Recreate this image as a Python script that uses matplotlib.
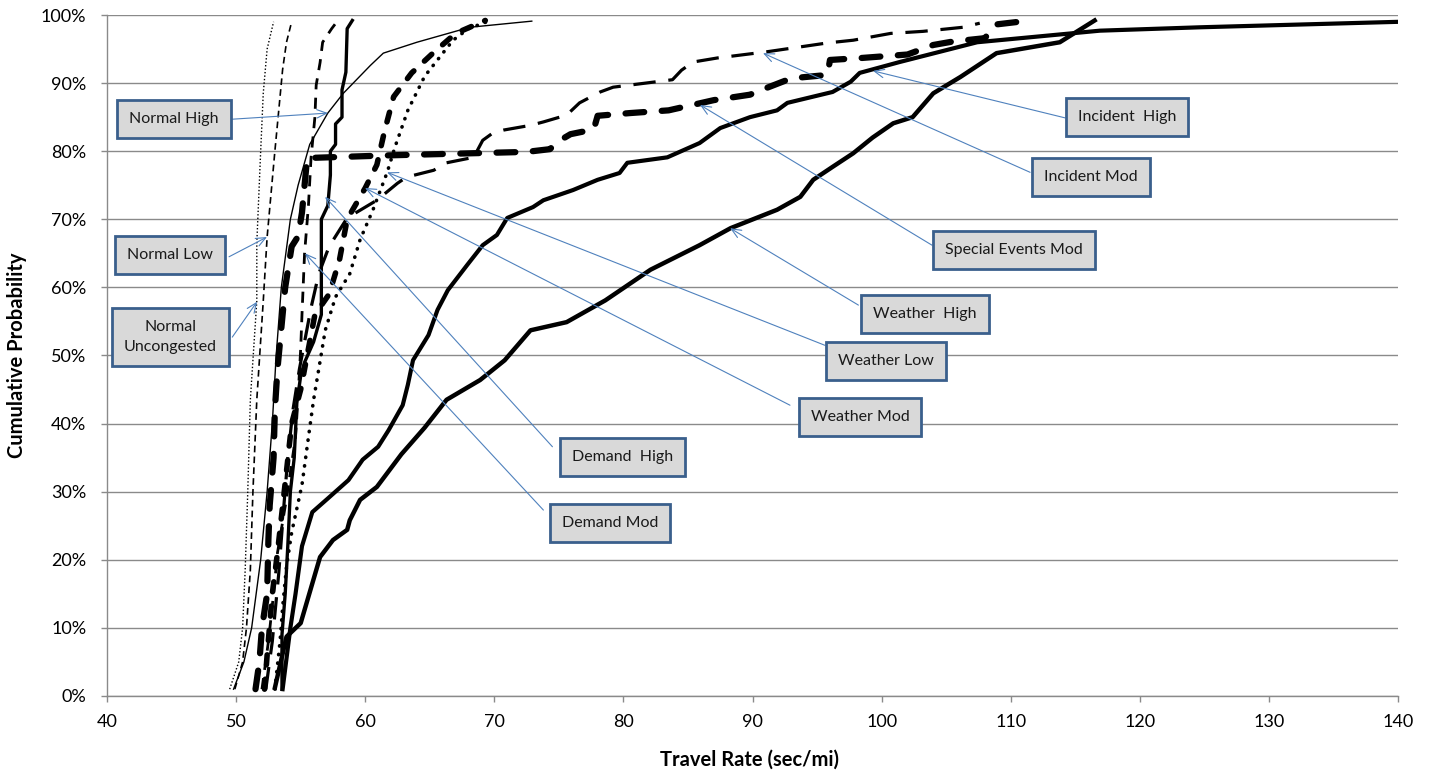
import matplotlib
matplotlib.use("Agg")
import matplotlib.pyplot as plt
from matplotlib.ticker import FuncFormatter

plt.rcParams['font.family'] = ['Lato', 'DejaVu Sans']

# ---------------- data (travel rate sec/mi, cumulative probability %) ----------------
normal_unc_x = [49.5, 50.2, 50.5, 50.7, 50.9, 51.1, 51.6, 51.6, 51.9, 52.1, 52.4, 52.9]
normal_unc_p = [1, 5, 10, 18.5, 30, 43.5, 58, 66.5, 80, 88.5, 95, 99]

normal_low_x = [49.9, 50.5, 50.8, 51.1, 51.3, 51.6, 52.1, 52.4, 53.0, 53.6, 53.9, 54.3]
normal_low_p = [1, 5, 10, 18.5, 30, 43.5, 58, 67.4, 80, 92, 96, 99]

normal_high_x = [49.8, 50.6, 51.2, 51.9, 52.4, 52.8, 53.1, 53.5, 54.2, 54.8, 55.7, 57.1, 58.3,
                 60.4, 61.4, 64.0, 68.1, 72.9]
normal_high_p = [1, 5, 10, 20, 30, 40, 50, 60, 70, 75, 81, 85.6, 88.5, 92.6, 94.4, 96, 98.2, 99.1]

demand_high_x = [53.55, 53.55, 53.8, 54.0, 54.2, 54.5, 54.7, 55.0, 55.3, 56.0, 56.6, 56.6, 57.1,
                 57.3, 57.3, 57.7, 57.7, 58.2, 58.2, 58.5, 58.6, 59.0]
demand_high_p = [1, 9, 15, 22, 30, 35, 43, 47, 49, 52, 56, 70, 72, 76.5, 80, 81, 84, 85, 89,
                 91.6, 98, 99.2]

demand_mod_x = [52.0, 52.5, 52.9, 53.2, 53.9, 54.6, 54.8, 55.0, 55.1, 55.3, 55.6, 55.8, 56.1,
                56.2, 56.5, 56.7, 57.4, 57.8]
demand_mod_p = [1, 8, 15, 21, 29, 38, 44, 51, 56, 65, 72, 79, 85, 89.7, 93, 96, 98, 99]

weather_low_x = [53.0, 53.4, 53.6, 53.9, 54.3, 55.1, 55.6, 56.0, 56.4, 56.9, 57.7, 58.8, 59.6,
                 60.6, 61.7, 62.3, 63.3, 64.6, 66.8, 68.0, 69.7]
weather_low_p = [1, 8, 13, 19, 24, 31, 38, 43.5, 48, 53.7, 58.6, 62, 67, 71.4, 76.9, 80.6, 86,
                 91, 96.3, 98, 99.2]

weather_mod_x = [52.2, 52.4, 52.8, 53.2, 53.9, 54.3, 55.0, 55.5, 56.1, 57.2, 58.0, 58.6, 60.0,
                 60.9, 61.5, 62.2, 63.6, 65.3, 67.0, 69.3]
weather_mod_p = [1, 6, 15, 21, 33, 40, 45, 50, 56, 59, 64, 70, 74.6, 78, 83, 88, 91.5, 94.5,
                 97.3, 99.2]

weather_high_x = [53.0, 53.9, 55.0, 56.5, 57.5, 58.6, 58.8, 59.6, 60.9, 62.8, 64.6, 66.3, 68.9,
                  70.8, 72.8, 75.6, 78.6, 82.1, 85.9, 88.3, 91.9, 93.7, 94.7, 96.2, 97.8, 99.3,
                  100.9, 102.4, 104.0, 106.1, 108.9, 113.8, 116.5]
weather_high_p = [1.2, 8.7, 10.7, 20.4, 22.9, 24.4, 25.8, 28.8, 30.7, 35.5, 39.4, 43.5, 46.4,
                  49.3, 53.7, 54.9, 58.1, 62.6, 66.2, 68.7, 71.4, 73.3, 75.8, 77.7, 79.7, 82,
                  84.1, 85, 88.5, 90.9, 94.4, 96, 99.2]

special_mod_x = [51.5, 51.8, 52.0, 52.4, 52.5, 52.6, 52.9, 53.0, 53.2, 53.5, 53.8, 54.3, 54.8,
                 55.1, 55.3, 55.5, 62.0, 72.5, 74.3, 75.0, 75.9, 77.7, 78.0, 80.5, 83.5, 87.0,
                 89.8, 91.1, 93.0, 95.8, 96.0, 98.5, 102.0, 104.0, 105.5, 108.0, 108.8, 111.5]
special_mod_p = [1, 5, 10, 15, 23, 28, 35, 42, 48, 54, 60, 66, 67.5, 71, 75, 79, 79.4, 79.9,
                 80.3, 81.5, 82.5, 83.2, 85.2, 85.6, 86, 87.5, 88.3, 89.3, 90.7, 91.2, 93.4,
                 93.7, 94.2, 95.6, 96.1, 96.6, 98.6, 99.2]

incident_mod_x = [52.3, 52.8, 53.3, 53.7, 54.0, 54.4, 54.9, 55.3, 55.8, 56.4, 57.2, 58.6, 60.9,
                  62.5, 63.2, 65.3, 66.3, 68.4, 69.1, 69.9, 70.7, 72.8, 73.8, 75.6, 76.6, 78.2,
                  79.2, 83.8, 84.5, 85.4, 87.3, 91.1, 95.8, 97.8, 100.7, 103.2, 106.3, 107.6]
incident_mod_p = [1, 8, 18, 28, 35, 42, 48, 52, 57, 62, 66, 70.2, 72.8, 75.3, 76.2, 77.2, 78.3,
                  79.1, 81.6, 82.7, 83.1, 83.8, 84.3, 85.3, 87.1, 88.7, 89.4, 90.5, 91.9, 93.1,
                  93.7, 94.6, 95.9, 96.3, 97.3, 97.6, 98.2, 98.8]

incident_high_x = [53.6, 54.2, 54.6, 55.1, 55.9, 57.1, 58.7, 59.8, 61.0, 61.8, 62.9, 63.3, 63.7,
                   64.9, 65.6, 66.4, 67.9, 69.1, 70.2, 71.0, 73.0, 73.8, 76.1, 78.0, 79.7, 80.3,
                   83.4, 85.9, 87.5, 89.8, 91.9, 92.7, 96.2, 97.6, 98.3, 101.4, 107.4, 116.9,
                   124.7, 140.0]
incident_high_p = [1, 10, 15, 22, 27, 29, 31.7, 34.7, 36.6, 39, 42.7, 45.7, 49.3, 53, 56.7, 59.6,
                   63.3, 66.2, 67.7, 70.2, 71.8, 72.8, 74.3, 75.8, 76.8, 78.3, 79.1, 81.2, 83.4,
                   85, 86, 87.1, 88.7, 90.2, 91.5, 93.1, 96, 97.7, 98.2, 99]

x_ticks = [40, 50, 60, 70, 80, 90, 100, 110, 120, 130, 140]
y_ticks = [0, 10, 20, 30, 40, 50, 60, 70, 80, 90, 100]

labels = ["Normal High", "Normal Low", "Normal\nUncongested", "Demand  High", "Demand Mod",
          "Weather Mod", "Weather Low", "Weather  High", "Special Events Mod",
          "Incident Mod", "Incident  High"]

# ---------------- layout / style ----------------
# arrow tip (data), arrow start (data), box centre (data)
ann_layout = [
    ((57.12, 85.6), (49.7, 84.7), (45.19, 84.7)),
    ((52.39, 67.4), (49.45, 64.5), (44.88, 64.8)),
    ((51.62, 57.9), (49.7, 52.7), (44.88, 52.7)),
    ((56.89, 73.3), (74.5, 36.6), (79.9, 35.1)),
    ((55.34, 65.0), (73.8, 27.3), (78.96, 25.4)),
    ((59.98, 74.6), (92.9, 42.7), (98.33, 41.0)),
    ((61.69, 76.9), (95.6, 51.5), (100.34, 49.2)),
    ((88.26, 68.7), (98.2, 57.4), (103.36, 56.1)),
    ((85.93, 86.8), (103.9, 66.2), (110.26, 65.5)),
    ((90.81, 94.4), (111.5, 76.9), (116.22, 76.2)),
    ((99.33, 91.8), (114.2, 84.9), (119.0, 85.0)),
]

fig = plt.figure(figsize=(14.33, 7.74), dpi=100)
ax = fig.add_axes([0.0747, 0.1008, 0.9009, 0.8798])

series = [
    (normal_unc_x, normal_unc_p, dict(lw=1.0, ls=(0, (1, 1.5)))),
    (normal_low_x, normal_low_p, dict(lw=1.2, ls=(0, (4, 2.5)))),
    (normal_high_x, normal_high_p, dict(lw=1.0, ls='-')),
    (demand_mod_x, demand_mod_p, dict(lw=2.0, ls=(0, (4, 3)))),
    (demand_high_x, demand_high_p, dict(lw=2.4, ls='-')),
    (weather_low_x, weather_low_p, dict(lw=2.6, ls=(0, (0.1, 2.3)), dash_capstyle='round')),
    (weather_mod_x, weather_mod_p, dict(lw=4.0, ls=(0, (1.8, 2.6)), dash_capstyle='round')),
    (weather_high_x, weather_high_p, dict(lw=3.2, ls='-')),
    (special_mod_x, special_mod_p, dict(lw=4.5, ls=(0, (3.0, 2.8)), dash_capstyle='round')),
    (incident_mod_x, incident_mod_p, dict(lw=2.3, ls=(0, (7, 4)))),
    (incident_high_x, incident_high_p, dict(lw=3.0, ls='-')),
]
for xs, ps, st in series:
    ax.plot(xs, ps, color='black', solid_joinstyle='round', zorder=3, **st)

ax.set_xlim(40, 140)
ax.set_ylim(0, 100)
ax.set_xticks(x_ticks)
ax.set_yticks(y_ticks)
ax.yaxis.set_major_formatter(FuncFormatter(lambda v, _: f"{int(v)}%"))
ax.grid(axis='y', color='#8a8a8a', lw=1.0, zorder=0)
for s in ['top', 'right']:
    ax.spines[s].set_visible(False)
for s in ['left', 'bottom']:
    ax.spines[s].set_color('#8a8a8a')
    ax.spines[s].set_linewidth(1.0)
ax.tick_params(axis='both', colors='#8a8a8a', labelcolor='black', labelsize=13,
               length=4, width=1.0)
ax.tick_params(axis='y', pad=11)
ax.tick_params(axis='x', pad=9)

ax.set_xlabel("Travel Rate (sec/mi)", fontsize=14.5, fontweight='bold')
ax.set_ylabel("Cumulative Probability", fontsize=14.5, fontweight='bold')
ax.xaxis.set_label_coords(0.498, -0.079)
ax.yaxis.set_label_coords(-0.062, 0.5)

for text, (tip, start, centre) in zip(labels, ann_layout):
    ax.annotate('', xy=tip, xytext=start, xycoords='data', textcoords='data',
                arrowprops=dict(arrowstyle='->,head_length=0.7,head_width=0.3',
                                color='#4f81bd', lw=0.8, shrinkA=0, shrinkB=0),
                zorder=4)
    ax.text(centre[0], centre[1], text, ha='center', va='center', fontsize=11.5,
            color='#1a1a1a', linespacing=1.5, zorder=5,
            bbox=dict(boxstyle='square,pad=0.75', fc='#d9d9d9', ec='#3a5f8c', lw=2.0))

fig.savefig('out.png', dpi=100)
